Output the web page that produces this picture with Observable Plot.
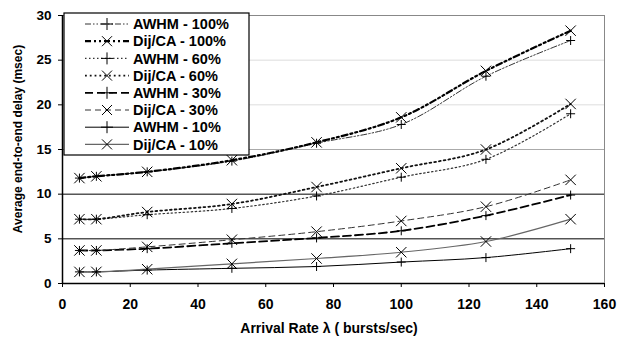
<!DOCTYPE html>
<html><head><meta charset="utf-8">
<script src="https://cdn.jsdelivr.net/npm/d3@7"></script>
<script src="https://cdn.jsdelivr.net/npm/@observablehq/plot@0.6"></script>
<style>body{margin:0;background:#fff;font-family:Arial,"Liberation Sans",sans-serif;}</style>
</head><body><div id="chart"></div>
<script>
const rates = [5, 10, 25, 50, 75, 100, 125, 150];
const awhm100 = [11.8, 12.0, 12.5, 13.7, 15.7, 17.8, 23.2, 27.2];
const dij100  = [11.8, 12.0, 12.5, 13.8, 15.8, 18.6, 23.8, 28.3];
const awhm60  = [7.2, 7.2, 7.7, 8.4, 9.8, 11.9, 13.9, 19.0];
const dij60   = [7.2, 7.2, 8.0, 8.9, 10.8, 12.9, 15.0, 20.1];
const awhm30  = [3.7, 3.7, 3.9, 4.5, 5.1, 5.9, 7.6, 9.9];
const dij30   = [3.7, 3.7, 4.1, 4.9, 5.8, 7.0, 8.6, 11.6];
const awhm10  = [1.3, 1.3, 1.5, 1.7, 1.9, 2.4, 2.9, 3.9];
const dij10   = [1.3, 1.3, 1.6, 2.2, 2.8, 3.5, 4.7, 7.2];
const seriesNames = ["AWHM - 100%", "Dij/CA - 100%", "AWHM - 60%", "Dij/CA - 60%", "AWHM - 30%", "Dij/CA - 30%", "AWHM - 10%", "Dij/CA - 10%"];
const seriesValues = [awhm100, dij100, awhm60, dij60, awhm30, dij30, awhm10, dij10];
const yTicks = [0, 5, 10, 15, 20, 25, 30];
const xTicks = [0, 20, 40, 60, 80, 100, 120, 140, 160];
const gridDark = [5, 10];
const gridMid = [15];
const gridLight = [20, 25];
const xLabel = "Arrival Rate λ ( bursts/sec)";
const yLabel = "Average end-to-end delay (msec)";

const styles = [
  {stroke: "#333", width: 1, dash: "6,2,1.5,2,1.5,2", sym: "plus"},
  {stroke: "#000", width: 2.2, dash: "6,3,2,3,2,3", sym: "times"},
  {stroke: "#333", width: 1.2, dash: "1.5,2.5", sym: "plus"},
  {stroke: "#111", width: 1.8, dash: "1.8,3", sym: "times"},
  {stroke: "#000", width: 1.8, dash: "8,4", sym: "plus"},
  {stroke: "#333", width: 1, dash: "6,4", sym: "times"},
  {stroke: "#000", width: 1, dash: null, sym: "plus"},
  {stroke: "#666", width: 1.2, dash: null, sym: "times"}
];

const marks = [
  Plot.ruleY(gridLight, {stroke: "#ddd", strokeWidth: 1}),
  Plot.ruleY(gridMid, {stroke: "#aaa", strokeWidth: 1}),
  Plot.ruleY(gridDark, {stroke: "#000", strokeWidth: 1}),
  Plot.frame({stroke: "#888"})
];
seriesValues.forEach((vals, i) => {
  const data = rates.map((r, j) => ({x: r, y: vals[j]}));
  const s = styles[i];
  marks.push(Plot.line(data, {x: "x", y: "y", stroke: s.stroke, strokeWidth: s.width, strokeDasharray: s.dash, curve: "catmull-rom"}));
});
seriesValues.forEach((vals, i) => {
  const data = rates.map((r, j) => ({x: r, y: vals[j]}));
  const s = styles[i];
  marks.push(Plot.dot(data, {x: "x", y: "y", symbol: s.sym, r: s.sym === "plus" ? 3 : 4.8, stroke: "#000", strokeWidth: 1}));
});
marks.push(Plot.ruleX([0], {stroke: "#000", strokeWidth: 1.5}));
marks.push(Plot.ruleY([0], {stroke: "#000", strokeWidth: 1.5}));
marks.push(Plot.axisY({ticks: yTicks, tickSize: 4, tickPadding: 7, fontSize: 13.5, fontWeight: "bold", label: null}));
marks.push(Plot.axisX({ticks: xTicks, tickSize: 4, tickPadding: 12, fontSize: 14, fontWeight: "bold", label: null}));

const plot = Plot.plot({
  width: 618, height: 337,
  marginLeft: 62, marginRight: 14, marginTop: 15, marginBottom: 54,
  x: {domain: [0, 160]},
  y: {domain: [0, 30]},
  style: {fontFamily: "Arial, 'Liberation Sans', sans-serif", fontWeight: "bold", color: "#000", background: "#fff"},
  marks
});
document.getElementById("chart").appendChild(plot);

const svg = d3.select(plot);
// axis titles
svg.append("text").attr("x", 329).attr("y", 333).attr("text-anchor", "middle")
  .attr("font-size", 14).attr("font-weight", "bold").attr("fill", "#000").text(xLabel);
svg.append("text").attr("transform", "translate(22,139) rotate(-90)").attr("text-anchor", "middle")
  .attr("font-size", 12).attr("font-weight", "bold").attr("fill", "#000").text(yLabel);

// legend inside plot area
const lg = svg.append("g").attr("text-anchor", "start");
const lx = 64, ly = 13, lw = 185, lh = 142;
lg.append("rect").attr("x", lx).attr("y", ly).attr("width", lw).attr("height", lh)
  .attr("fill", "#fff").attr("stroke", "#000").attr("stroke-width", 1.2);
seriesNames.forEach((name, i) => {
  const s = styles[i];
  const cy = 24 + i * 17.2;
  lg.append("line").attr("x1", 85).attr("x2", 129).attr("y1", cy).attr("y2", cy)
    .attr("stroke", s.stroke).attr("stroke-width", s.width)
    .attr("stroke-dasharray", s.dash);
  const sz = s.sym === "plus" ? 6 : 5;
  if (s.sym === "plus") {
    lg.append("path").attr("d", `M${107-sz},${cy}H${107+sz}M107,${cy-sz}V${cy+sz}`).attr("stroke", "#000").attr("stroke-width", 1);
  } else {
    lg.append("path").attr("d", `M${107-sz},${cy-sz}L${107+sz},${cy+sz}M${107-sz},${cy+sz}L${107+sz},${cy-sz}`).attr("stroke", "#000").attr("stroke-width", 1);
  }
  lg.append("text").attr("x", 133).attr("y", cy).attr("dy", "0.36em").attr("text-anchor", "start")
    .attr("font-size", 14.5).attr("font-weight", "bold").attr("fill", "#000").text(name);
});
</script>
</body></html>
